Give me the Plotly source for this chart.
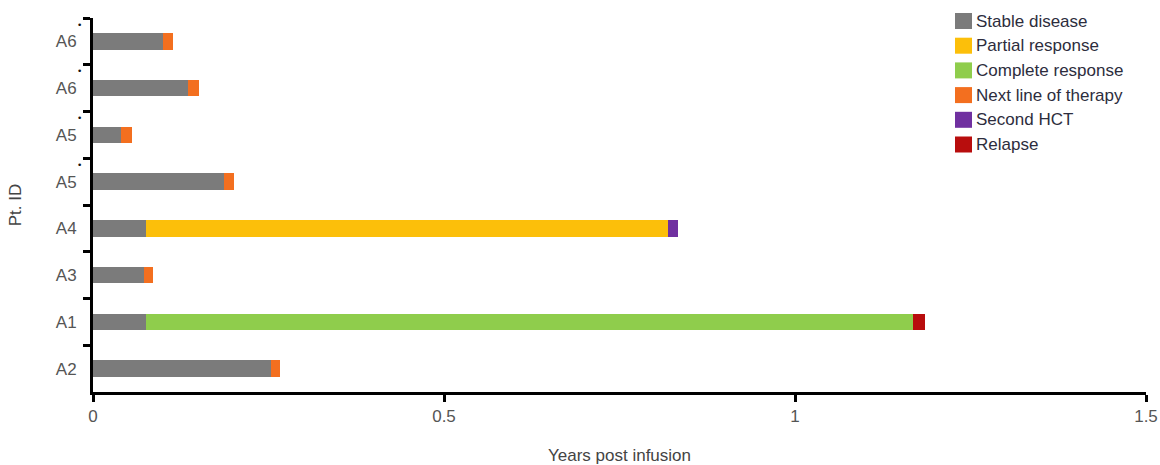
import plotly.graph_objects as go

# Patients, listed bottom to top on the y axis
patients = ["A2", "A1", "A3", "A4", "A5", "A5", "A6", "A6"]
flagged = [False, False, False, False, True, True, True, True]

# Time spent in each state (years post infusion), one value per patient row
stable_disease = [0.253, 0.0755, 0.072, 0.0755, 0.187, 0.040, 0.135, 0.100]
partial_response = [0, 0, 0, 0.7435, 0, 0, 0, 0]
complete_response = [0, 1.0925, 0, 0, 0, 0, 0, 0]
next_line_therapy = [0.013, 0, 0.013, 0, 0.014, 0.015, 0.016, 0.014]
second_hct = [0, 0, 0, 0.014, 0, 0, 0, 0]
relapse = [0, 0.017, 0, 0, 0, 0, 0, 0]

x_ticks = [0, 0.5, 1, 1.5]
x_tick_labels = ["0", "0.5", "1", "1.5"]

series = [
    ("Stable disease", stable_disease, "#7b7b7b"),
    ("Partial response", partial_response, "#fcbf0a"),
    ("Complete response", complete_response, "#8fcd4c"),
    ("Next line of therapy", next_line_therapy, "#f36f1f"),
    ("Second HCT", second_hct, "#7030a0"),
    ("Relapse", relapse, "#b80d0d"),
]

W, H = 1160, 465
M = dict(l=93, r=14, t=18, b=73)
plot_w = W - M["l"] - M["r"]
plot_h = H - M["t"] - M["b"]

rows = list(range(len(patients)))
font = "Liberation Sans, Arial, sans-serif"

fig = go.Figure()
for name, vals, color in series:
    fig.add_trace(go.Bar(
        x=vals, y=rows, orientation="h", name=name,
        marker=dict(color=color, line=dict(width=0)),
        width=0.35, showlegend=False,
    ))

# Small markers beside the flagged patient labels
for r, f in zip(rows, flagged):
    if f:
        fig.add_annotation(
            x=-0.0125, xref="paper", y=r + 0.36, yref="y",
            text="•", showarrow=False, xanchor="center", yanchor="middle",
            font=dict(family="DejaVu Sans", size=9, color="#111111"),
        )

# Key: colour swatch and label for each state, stacked in the top-right corner
key_left_px, key_top_px, key_step_px = 955, 21, 24.7
sw_w, sw_h = 17, 16
for i, (name, vals, color) in enumerate(series):
    cy = key_top_px + i * key_step_px
    x0 = (key_left_px - M["l"]) / plot_w
    x1 = (key_left_px + sw_w - M["l"]) / plot_w
    y0 = (H - M["b"] - (cy + sw_h / 2)) / plot_h
    y1 = (H - M["b"] - (cy - sw_h / 2)) / plot_h
    fig.add_shape(type="rect", xref="paper", yref="paper",
                  x0=x0, x1=x1, y0=y0, y1=y1,
                  fillcolor=color, line=dict(width=0))
    fig.add_annotation(
        x=(key_left_px + sw_w + 2 - M["l"]) / plot_w, xref="paper",
        y=(H - M["b"] - cy) / plot_h, yref="paper",
        text=name, showarrow=False, xanchor="left", yanchor="middle",
        font=dict(family=font, size=17, color="#2d2d3d"),
    )

fig.update_layout(
    width=W, height=H,
    margin=M,
    barmode="stack",
    plot_bgcolor="white", paper_bgcolor="white",
    font=dict(family=font, color="#444444"),
    showlegend=False,
    xaxis=dict(
        range=[0, 1.5], tickvals=x_ticks, ticktext=x_tick_labels,
        showline=True, linecolor="black", linewidth=3,
        ticks="outside", ticklen=7, tickwidth=3, tickcolor="black",
        showgrid=False, zeroline=False, automargin=False,
        tickfont=dict(family=font, size=17, color="#555555"),
        title=dict(text="Years post infusion", standoff=24,
                   font=dict(family=font, size=17, color="#444444")),
    ),
    yaxis=dict(
        range=[-0.5, 7.5], tickvals=rows, ticktext=patients,
        showline=True, linecolor="black", linewidth=3,
        ticks="", showgrid=False, zeroline=False, automargin=False,
        ticklabelstandoff=10,
        tickfont=dict(family=font, size=17, color="#555555"),
        minor=dict(tickvals=[r + 0.5 for r in rows], ticks="outside",
                   ticklen=7, tickwidth=3, tickcolor="black", showgrid=False),
        title=dict(text="Pt. ID", standoff=30,
                   font=dict(family=font, size=17, color="#444444")),
    ),
)

fig.write_html("out.html")
